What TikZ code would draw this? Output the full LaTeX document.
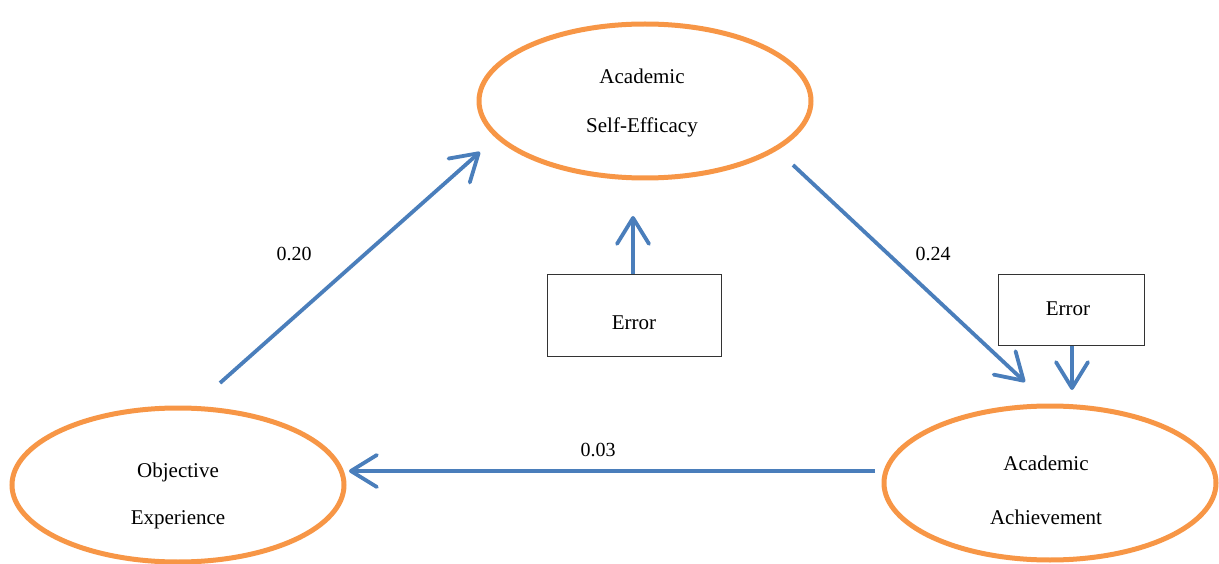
\documentclass[tikz,border=0pt]{standalone}
\usepackage{fontspec}
\setmainfont{Liberation Serif}
\usetikzlibrary{arrows.meta,shapes.geometric}
\definecolor{orng}{HTML}{F79646}
\definecolor{blu}{HTML}{4A7EBB}
\begin{document}
\begin{tikzpicture}[x=1pt,y=-1pt,
  latent/.style={draw=orng,line width=5pt,ellipse,minimum width=332pt,minimum height=154pt,inner sep=0pt},
  errbox/.style={draw=black!80,line width=1pt,rectangle,inner sep=0pt},
  path/.style={draw=blu,line width=3.8pt,-{Straight Barb[length=26pt,width=32pt,round]}},
  lbl/.style={font=\fontsize{20}{24}\selectfont},
  txt/.style={font=\fontsize{21}{50}\selectfont,align=center}]
\useasboundingbox (0,0) rectangle (1219,564);
\node[latent] (ase) at (645,101) {};
\node[latent] (oe) at (178,485) {};
\node[latent] (aa) at (1050,483) {};
\node[txt] (t1) at (642,102.5) {Academic\\[-1pt]Self-Efficacy};
\node[txt] (t2) at (178,496) {Objective\\[-3pt]Experience};
\node[txt] (t3) at (1046,490) {Academic\\[4pt]Achievement};
\node[errbox,minimum width=174pt,minimum height=81pt] (e1) at (634,315.5) {};
\node[txt] at (634,323) {Error};
\node[errbox,minimum width=146pt,minimum height=70pt] (e2) at (1071,310) {};
\node[txt] at (1068,309) {Error};
\coordinate (a1s) at (220,383); \coordinate (a1e) at (480,152);
\coordinate (a2s) at (793,165); \coordinate (a2e) at (1025,382);
\coordinate (a3s) at (875,471); \coordinate (a3e) at (349,471);
\coordinate (a4e) at (633,216);
\coordinate (a5e) at (1072,390);
\draw[path] (a1s) -- (a1e);
\draw[path] (a2s) -- (a2e);
\draw[path] (a3s) -- (a3e);
\draw[path] (e1.north -| a4e) -- (a4e);
\draw[path] (e2.south -| a5e) -- (a5e);
\node[lbl] (l1) at (294,254) {0.20};
\node[lbl] (l2) at (933,254) {0.24};
\node[lbl] (l3) at (598,450) {0.03};
\end{tikzpicture}
\end{document}
